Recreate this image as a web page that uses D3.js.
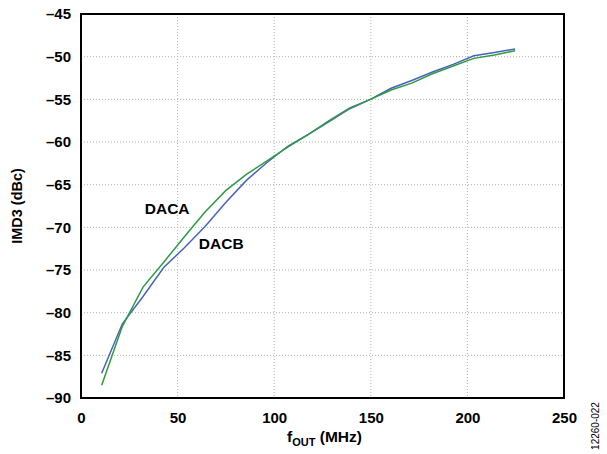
<!DOCTYPE html>
<html>
<head>
<meta charset="utf-8">
<script src="https://cdn.jsdelivr.net/npm/d3@7"></script>
<style>
  html, body { margin: 0; padding: 0; background: #fff; }
  svg { display: block; font-family: "Liberation Sans", Arial, sans-serif; }
</style>
</head>
<body>
<svg id="chart" width="607" height="454"></svg>
<script>
// ---- data ----
const fout = [10.7, 21.4, 32.1, 42.8, 53.5, 64.2, 74.9, 85.6, 96.3, 107, 117.7, 128.4, 139.1, 149.8, 160.5, 171.2, 181.9, 192.6, 203.3, 214, 224.7];
const dacB = [-87.1, -81.3, -78.1, -74.7, -72.4, -69.9, -67.1, -64.5, -62.4, -60.5, -59.1, -57.6, -56.1, -55.0, -53.7, -52.8, -51.8, -50.9, -49.9, -49.5, -49.1];
const dacA = [-88.5, -81.6, -77.0, -74.1, -71.1, -68.2, -65.7, -63.8, -62.2, -60.6, -59.1, -57.5, -56.0, -55.0, -53.9, -53.1, -52.0, -51.1, -50.2, -49.8, -49.3];
const xTicks = [0, 50, 100, 150, 200, 250];
const yTicks = [-90, -85, -80, -75, -70, -65, -60, -55, -50, -45];
const seriesNames = ["DACA", "DACB"];

// ---- layout ----
const L = 81, R = 564, T = 14, B = 398;
const svg = d3.select("#chart");
const x = d3.scaleLinear().domain([0, 250]).range([L, R]);
const y = d3.scaleLinear().domain([-90, -45]).range([B, T]);
const fmt = d => d < 0 ? "\u2013" + Math.abs(d) : String(d);

// grid
const grid = svg.append("g");
grid.selectAll("line.gx").data(xTicks.slice(1, -1)).enter().append("line")
  .attr("x1", d => x(d)).attr("x2", d => x(d)).attr("y1", T).attr("y2", B)
  .attr("stroke", "#a9b9a6").attr("stroke-width", 1).attr("stroke-dasharray", "1,2");
grid.selectAll("line.gy").data(yTicks.slice(1, -1)).enter().append("line")
  .attr("x1", L).attr("x2", R).attr("y1", d => y(d)).attr("y2", d => y(d))
  .attr("stroke", "#a9b9a6").attr("stroke-width", 1).attr("stroke-dasharray", "1,2");

// axes (labels only)
const xAxis = svg.append("g").attr("transform", `translate(0,${B})`)
  .call(d3.axisBottom(x).tickValues(xTicks).tickFormat(fmt).tickSize(0).tickPadding(14));
const yAxis = svg.append("g").attr("transform", `translate(${L},0)`)
  .call(d3.axisLeft(y).tickValues(yTicks).tickFormat(fmt).tickSize(0).tickPadding(10));
[xAxis, yAxis].forEach(a => {
  a.select(".domain").remove();
  a.selectAll("text").attr("font-family", "Liberation Sans, Arial, sans-serif")
    .attr("font-size", 15).attr("font-weight", "bold").attr("fill", "#000");
});

// lines
const line = vals => d3.line().x((d, i) => x(fout[i])).y(d => y(d))(vals);
svg.append("path").attr("d", line(dacB)).attr("fill", "none")
  .attr("stroke", "#4a63b9").attr("stroke-width", 1.5);
svg.append("path").attr("d", line(dacA)).attr("fill", "none")
  .attr("stroke", "#2e9a44").attr("stroke-width", 1.5);

// border
svg.append("rect").attr("x", L).attr("y", T).attr("width", R - L).attr("height", B - T)
  .attr("fill", "none").attr("stroke", "#000").attr("stroke-width", 2);

// series labels
svg.append("text").attr("x", x(33)).attr("y", y(-68.4)).text(seriesNames[0])
  .attr("font-size", 15.5).attr("font-weight", "bold");
svg.append("text").attr("x", x(61)).attr("y", y(-72.5)).text(seriesNames[1])
  .attr("font-size", 15.5).attr("font-weight", "bold");

// axis titles
svg.append("text").attr("transform", `translate(22,${(T + B) / 2}) rotate(-90)`)
  .attr("text-anchor", "middle").attr("font-size", 14.5).attr("font-weight", "bold")
  .text("IMD3 (dBc)");
const xt = svg.append("text").attr("x", (L + R) / 2 + 2).attr("y", 442)
  .attr("text-anchor", "middle").attr("font-size", 15.5).attr("font-weight", "bold");
xt.append("tspan").text("f");
xt.append("tspan").attr("font-size", 11).attr("dy", 4).text("OUT");
xt.append("tspan").attr("dy", -4).text(" (MHz)");

// figure id
svg.append("text").attr("transform", "translate(599,426) rotate(-90)")
  .attr("text-anchor", "middle").attr("font-size", 10).text("12260-022");
</script>
</body>
</html>
